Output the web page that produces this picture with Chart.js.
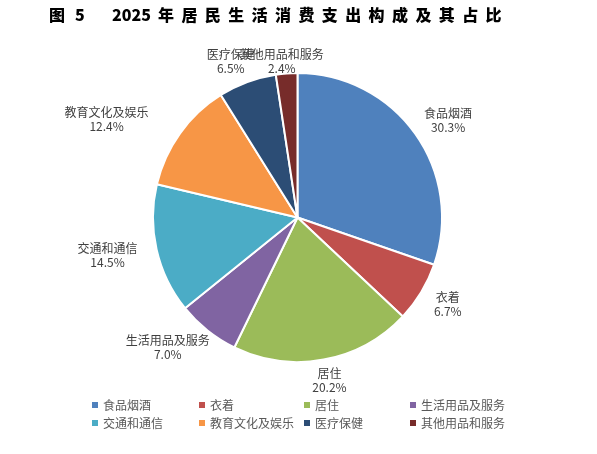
<!DOCTYPE html>
<html>
<head>
<meta charset="utf-8">
<script src="https://cdn.jsdelivr.net/npm/chart.js@4.4.1/dist/chart.umd.min.js"></script>
<style>
  html, body { margin: 0; padding: 0; background: #fff; }
  #wrap { position: relative; width: 597px; height: 454px; overflow: hidden; }
  #c { position: absolute; left: 0; top: 0; }
  .t { position: absolute; top: 4px; font-family: "Noto Sans CJK SC", "Noto Sans", sans-serif; font-weight: 900; font-size: 16px; line-height: 20px; color: #000; white-space: nowrap; }
</style>
</head>
<body>
<div id="wrap">
  <canvas id="c" width="597" height="454" style="width:597px;height:454px"></canvas>
  <div class="t" style="left:49px;">图</div>
  <div class="t" style="left:75px;">5</div>
  <div class="t" style="left:112px;">2025</div>
  <div class="t" style="left:158px;letter-spacing:7.4px;">年居民生活消费支出构成及其占比</div>
</div>
<script>
// ---- data ----
const categories = ['食品烟酒', '衣着', '居住', '生活用品及服务', '交通和通信', '教育文化及娱乐', '医疗保健', '其他用品和服务'];
const shares = [30.3, 6.7, 20.2, 7.0, 14.5, 12.4, 6.5, 2.4];
const pctLabels = ['30.3%', '6.7%', '20.2%', '7.0%', '14.5%', '12.4%', '6.5%', '2.4%'];

// ---- styles ----
const colors = ['#4F81BD', '#C0504D', '#9BBB59', '#8064A2', '#4BACC6', '#F79646', '#2C4D75', '#772C2A'];
const labelNudge = [[6, 0], [7, 0], [1, -2], [-8, -1], [-11, 1], [-32, 0], [-5, 1], [-1, 11]];
const FONT = '"Noto Sans CJK SC", "Noto Sans", sans-serif';

const outsideLabels = {
  id: 'outsideLabels',
  afterDatasetsDraw(chart) {
    const ctx = chart.ctx;
    const meta = chart.getDatasetMeta(0);
    ctx.save();
    ctx.font = '12px ' + FONT;
    ctx.fillStyle = '#404040';
    ctx.textAlign = 'center';
    ctx.textBaseline = 'middle';
    const gap = 9, h = 28;
    meta.data.forEach((arc, i) => {
      const p = arc.getProps(['x', 'y', 'startAngle', 'endAngle', 'outerRadius'], true);
      const mid = (p.startAngle + p.endAngle) / 2;
      const dx = Math.cos(mid), dy = Math.sin(mid);
      const name = chart.data.labels[i];
      const pct = pctLabels[i];
      const w = Math.max(ctx.measureText(name).width, ctx.measureText(pct).width);
      const ax = p.x + (p.outerRadius + gap) * dx;
      const ay = p.y + (p.outerRadius + gap) * dy;
      const cx = ax + dx * w / 2 + labelNudge[i][0];
      const cy = ay + dy * h / 2 + labelNudge[i][1];
      ctx.fillText(name, cx, cy - 7);
      ctx.fillText(pct, cx, cy + 7);
    });
    ctx.restore();
  }
};

const gridLegend = {
  id: 'gridLegend',
  afterDraw(chart) {
    const ctx = chart.ctx;
    const cols = [92, 199, 304, 410];
    const rows = [405, 423];
    ctx.save();
    ctx.font = '12px ' + FONT;
    ctx.textBaseline = 'middle';
    ctx.textAlign = 'left';
    chart.data.labels.forEach((lab, i) => {
      const x = cols[i % 4], y = rows[Math.floor(i / 4)];
      ctx.fillStyle = chart.data.datasets[0].backgroundColor[i];
      ctx.fillRect(x, y - 3, 6, 6);
      ctx.fillStyle = '#595959';
      ctx.fillText(lab, x + 11, y);
    });
    ctx.restore();
  }
};

new Chart(document.getElementById('c'), {
  type: 'pie',
  data: {
    labels: categories,
    datasets: [{
      data: shares,
      backgroundColor: colors,
      borderColor: '#ffffff',
      borderWidth: 2
    }]
  },
  options: {
    responsive: false,
    animation: false,
    layout: { padding: { top: 72, bottom: 91, left: 152, right: 154 } },
    plugins: {
      legend: { display: false },
      tooltip: { enabled: false },
      title: { display: false }
    }
  },
  plugins: [outsideLabels, gridLegend]
});
</script>
</body>
</html>
